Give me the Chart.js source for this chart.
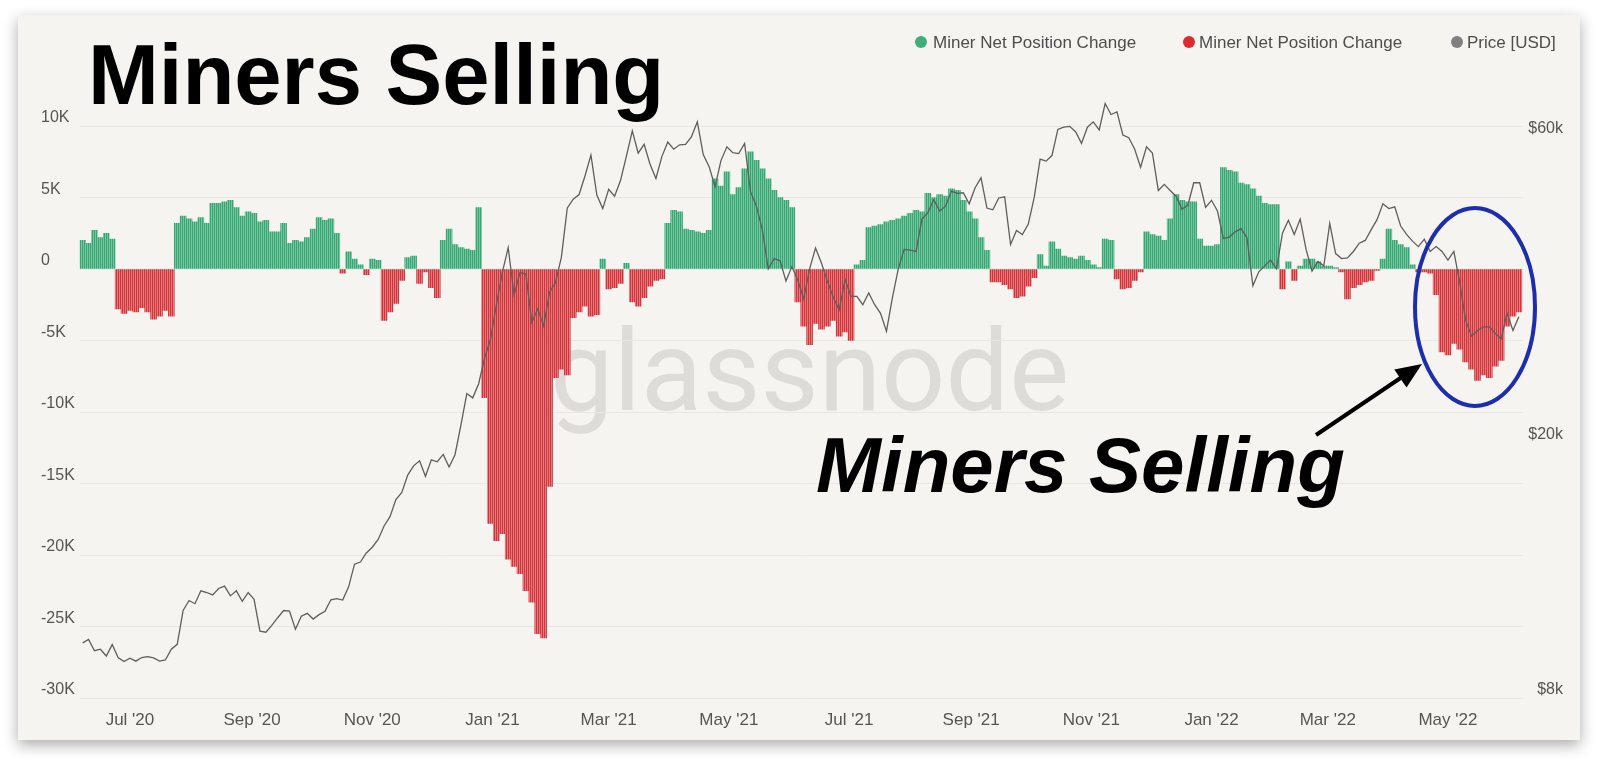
<!DOCTYPE html>
<html>
<head>
<meta charset="utf-8">
<script src="https://cdn.jsdelivr.net/npm/chart.js@4.4.1/dist/chart.umd.min.js"></script>
<style>
html,body{margin:0;padding:0;background:#ffffff;width:1603px;height:765px;overflow:hidden;}
#card{position:absolute;left:18px;top:15px;width:1562px;height:725px;background:#f5f4f0;box-shadow:0 5px 14px rgba(0,0,0,0.33);}
#under,#over,#c{position:absolute;left:0;top:0;}
</style>
</head>
<body>
<div id="card"></div>
<svg id="under" width="1603" height="765">
  <text x="550" y="410" font-family="Roboto, 'Open Sans', sans-serif" font-weight="400" font-size="113" fill="#dddcd8" textLength="519" lengthAdjust="spacingAndGlyphs">glassnode</text>
</svg>
<canvas id="c" width="1603" height="765"></canvas>
<svg id="over" width="1603" height="765">
  <text x="88" y="104" font-family="'Liberation Sans', Arial, sans-serif" font-weight="700" font-size="85" fill="#000">Miners Selling</text>
  <g font-family="'Liberation Sans', Arial, sans-serif" font-size="17" fill="#4d4d4d">
    <circle cx="921" cy="42" r="6" fill="#3fae7a"/><text x="933" y="48">Miner Net Position Change</text>
    <circle cx="1189" cy="42" r="6" fill="#dd2a30"/><text x="1199" y="48">Miner Net Position Change</text>
    <circle cx="1457" cy="42" r="6" fill="#808080"/><text x="1467" y="48">Price [USD]</text>
  </g>
  <ellipse cx="1475" cy="307" rx="60" ry="99" fill="none" stroke="#1d2ead" stroke-width="4"/>
  <line x1="1316" y1="435" x2="1402" y2="377" stroke="#000" stroke-width="4"/>
  <polygon points="1422,364 1406.5,387.6 1394.3,369.4" fill="#000"/>
  <text x="816" y="492" font-family="'Liberation Sans', Arial, sans-serif" font-weight="700" font-style="italic" font-size="78" fill="#000">Miners Selling</text>
</svg>
<script>
// ---- data (one value every 3 days starting 2020-06-07) ----
const startDate = '2020-06-07';
const stepDays = 3;

// Miner net position change, thousands of BTC
const netChangeK = [
  2.0, 1.8, 2.7, 2.2, 2.5, 2.1, -2.8, -3.1, -2.9, -3.0,
  -2.7, -3.0, -3.5, -3.3, -2.9, -3.3, 3.2, 3.7, 3.5, 3.3,
  3.6, 3.2, 4.6, 4.6, 4.7, 4.8, 4.3, 3.7, 4.0, 3.9,
  3.3, 3.4, 2.6, 2.6, 3.2, 1.8, 2.0, 1.9, 2.2, 2.8,
  3.6, 3.4, 3.5, 2.5, -0.3, 1.2, 0.7, 0.3, -0.4, 0.7,
  0.6, -3.6, -3.0, -2.4, -0.8, 0.8, 0.9, -1.0, -0.2, -1.3,
  -2.0, 2.0, 2.8, 1.7, 1.5, 1.4, 1.3, 4.3, -9.0, -17.8,
  -19.0, -18.5, -20.3, -20.8, -21.3, -22.5, -23.3, -25.5, -25.8, -15.2,
  -7.6, -7.0, -7.4, -3.4, -3.0, -2.6, -3.3, -3.2, 0.7, -1.4,
  -1.3, -1.0, 0.4, -2.3, -2.6, -2.0, -1.2, -0.8, -0.7, 3.2,
  4.1, 4.0, 2.8, 2.7, 2.6, 2.5, 2.7, 6.3, 5.8, 6.8,
  5.2, 5.7, 7.0, 8.2, 7.6, 7.0, 6.3, 5.5, 5.0, 4.8,
  4.3, -2.3, -4.0, -5.3, -3.8, -4.2, -4.0, -3.6, -4.7, -4.4,
  -5.0, 0.3, 0.6, 2.9, 3.0, 3.1, 3.3, 3.4, 3.5, 3.7,
  3.9, 4.1, 4.0, 5.3, 5.0, 5.2, 5.1, 5.6, 5.5, 4.8,
  4.0, 3.5, 2.2, 1.3, -0.9, -0.9, -1.1, -1.4, -2.0, -1.9,
  -1.2, -0.6, 1.0, 0.2, 1.9, 1.4, 0.9, 0.8, 0.7, 0.9,
  0.6, 0.3, 0.1, 2.1, 2.0, -0.7, -1.4, -1.3, -0.8, -0.2,
  2.6, 2.4, 2.3, 2.0, 3.5, 5.2, 4.8, 4.7, 4.7, 2.1,
  1.6, 1.6, 1.7, 7.1, 6.9, 6.8, 6.0, 5.9, 5.6, 5.1,
  4.6, 4.5, 4.5, -1.4, 0.5, -0.8, 0.2, 0.7, 0.7, 0.5,
  0.2, 0.2, 0.1, -0.2, -2.1, -1.3, -1.1, -0.9, -0.8, -0.1,
  0.7, 2.8, 2.0, 1.7, 1.5, 0.3, -0.2, -0.2, -0.3, -1.8,
  -5.8, -6.0, -5.2, -5.6, -6.5, -7.0, -7.8, -7.4, -7.6, -6.8,
  -6.4, -4.0, -3.3, -3.0
];

// BTC price, USD
const priceUSD = [
  9750, 9870, 9480, 9530, 9300, 9690, 9250, 9120,
  9230, 9130, 9250, 9280, 9240, 9130, 9170, 9530, 9700, 10950, 11350,
  11220, 11750, 11680, 11580, 11850, 11950, 11540, 11750, 11320, 11680,
  11400, 10170, 10130, 10380, 10670, 10950, 10930, 10240, 10730, 10840,
  10620, 10790, 10920, 11380, 11430, 11370, 11920, 12930, 13030, 13460,
  13740, 14130, 14830, 15330, 16300, 16720, 17800, 18400, 18730, 17720,
  18800, 18670, 19170, 18320, 19150, 21300, 23850, 23480, 24700, 27080, 28950,
  32780, 36800, 40250, 33950, 36800, 36600, 30800, 32300, 30400, 34300,
  35500, 38900, 46400, 47900, 48700, 52100, 56100, 48600, 46300,
  49600, 48400, 51200, 55900, 61200, 56500, 58300, 54300, 51600, 55800, 58800,
  57300, 58200, 58300, 59900, 63200, 56200, 53800, 50100, 55000, 57800,
  56600, 56400, 58500, 49200, 46700, 42900, 37300, 38700, 38400, 35700,
  37600, 35800, 33500, 37300, 40200, 38100, 35700, 33700, 32200, 35900,
  33800, 33800, 32800, 34200, 32800, 31800, 29800, 33600, 37300, 40000,
  39900, 39700, 44600, 45600, 47800, 45900, 46700, 49300, 48900, 49000, 47100,
  49900, 51700, 46400, 46100, 48100, 48300, 40700, 42800, 42200, 43800,
  48200, 55300, 54900, 56000, 61500, 62000, 62200, 61000, 58500, 62000,
  63200, 61400, 67500, 64900, 65500, 60300, 59700, 57300, 53700, 57800,
  56500, 49400, 50500, 49400, 48400, 46200, 46900, 50800, 50800, 46500,
  47700, 45900, 41600, 41800, 42600, 43100, 41700, 35100, 36900, 37700, 38500,
  37300, 42400, 44400, 42200, 44600, 40000, 37000, 38300, 37700,
  43900, 39400, 38700, 38800, 39700, 40900, 41300, 42900, 44500, 47100,
  46300, 46600, 43500, 42200, 41200, 40400, 41500, 39700, 40400, 39700,
  38500, 39700, 35500, 31000, 29300, 29900, 30300, 30300, 29600, 29000, 31800,
  29900, 31400
];

const monthTickLabels = ["Jul '20", "Sep '20", "Nov '20", "Jan '21", "Mar '21", "May '21", "Jul '21", "Sep '21", "Nov '21", "Jan '22", "Mar '22", "May '22"];
const monthTickDates = ['2020-07-01', '2020-09-01', '2020-11-01', '2021-01-01', '2021-03-01', '2021-05-01', '2021-07-01', '2021-09-01', '2021-11-01', '2022-01-01', '2022-03-01', '2022-05-01'];
const leftTicksK = [-30, -25, -20, -15, -10, -5, 0, 5, 10];
const priceTicks = [8000, 20000, 60000];

// ---- build ----
const toUTC = s => { const p = s.split('-').map(Number); return Date.UTC(p[0], p[1] - 1, p[2]); };
const START = toUTC(startDate);
const dayOf = s => Math.round((toUTC(s) - START) / 86400000);
const days = netChangeK.map((_, i) => i * stepDays);
const greenPts = days.map((d, i) => ({ x: d, y: netChangeK[i] > 0 ? netChangeK[i] : null }));
const redPts = days.map((d, i) => ({ x: d, y: netChangeK[i] < 0 ? netChangeK[i] : null }));
const pricePts = days.map((d, i) => ({ x: d, y: priceUSD[i] }));
const tickDays = monthTickDates.map(dayOf);

// striped fill like the daily bars of the original
function stripes(dark, light) {
  const pc = document.createElement('canvas');
  pc.width = 2; pc.height = 1;
  const g = pc.getContext('2d');
  g.fillStyle = dark; g.fillRect(0, 0, 1, 1);
  g.fillStyle = light; g.fillRect(1, 0, 1, 1);
  return document.getElementById('c').getContext('2d').createPattern(pc, 'repeat');
}
const greenFill = stripes('#38a672', '#74c7a0');
const redFill = stripes('#d2333a', '#e6797c');

Chart.defaults.font.family = "'Liberation Sans', Arial, Helvetica, sans-serif";

new Chart(document.getElementById('c'), {
  type: 'bar',
  data: {
    datasets: [
      { type: 'bar', label: 'Miner Net Position Change', data: greenPts, backgroundColor: greenFill,
        yAxisID: 'y', grouped: false, order: 2, categoryPercentage: 1, barPercentage: 1 },
      { type: 'bar', label: 'Miner Net Position Change', data: redPts, backgroundColor: redFill,
        yAxisID: 'y', grouped: false, order: 2, categoryPercentage: 1, barPercentage: 1 },
      { type: 'line', label: 'Price [USD]', data: pricePts, borderColor: '#5e5e5e', borderWidth: 1.3,
        pointRadius: 0, yAxisID: 'y1', order: 1, tension: 0 }
    ]
  },
  options: {
    responsive: false,
    animation: false,
    events: [],
    devicePixelRatio: 1,
    layout: { padding: { left: 41, right: 40, top: 97.4, bottom: 0 } },
    plugins: { legend: { display: false }, tooltip: { enabled: false } },
    scales: {
      x: {
        type: 'linear', min: -1.5, max: 731, offset: false,
        grid: { display: false, drawTicks: false, offset: false },
        border: { display: false },
        afterBuildTicks: s => { s.ticks = tickDays.map(v => ({ value: v })); },
        afterFit: s => { s.height = 67; },
        ticks: {
          autoSkip: false, maxRotation: 0, minRotation: 0, padding: 12, color: '#555', font: { size: 17 },
          callback: v => { const k = tickDays.indexOf(v); return k >= 0 ? monthTickLabels[k] : ''; }
        }
      },
      y: {
        position: 'left', min: -30, max: 12,
        grid: { color: '#e8e7e2', drawTicks: false, lineWidth: 1 },
        border: { display: false },
        afterBuildTicks: s => { s.ticks = leftTicksK.map(v => ({ value: v })); },
        afterFit: s => { s.width = 38.7; },
        ticks: {
          crossAlign: 'far', labelOffset: -8, padding: 0, color: '#555', font: { size: 16 },
          callback: v => v === 0 ? '0' : v + 'K'
        }
      },
      y1: {
        type: 'logarithmic', position: 'right', min: 8000, max: 69000,
        grid: { display: false, drawTicks: false },
        border: { display: false },
        afterBuildTicks: s => { s.ticks = priceTicks.map(v => ({ value: v })); },
        afterFit: s => { s.width = 40.2; },
        ticks: {
          crossAlign: 'far', labelOffset: -8, padding: 0, color: '#555', font: { size: 16 },
          callback: v => '$' + (v / 1000) + 'k'
        }
      }
    }
  }
});
</script>
</body>
</html>
